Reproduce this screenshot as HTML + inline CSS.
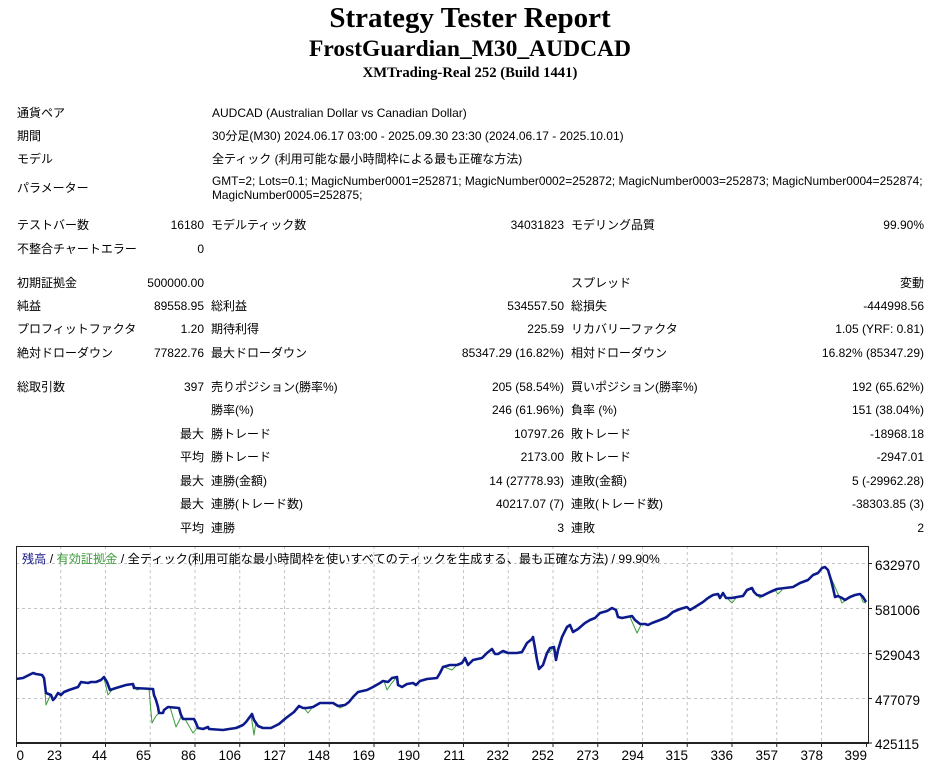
<!DOCTYPE html>
<html><head><meta charset="utf-8">
<style>
html,body{margin:0;padding:0;background:#fff;}
body{width:940px;height:761px;overflow:hidden;position:relative;font-family:"Liberation Sans","Noto Sans CJK JP",sans-serif;font-size:12px;color:#000;}
.h{position:absolute;left:0;width:940px;text-align:center;font-family:"Liberation Serif","Noto Serif CJK SC",serif;font-weight:bold;line-height:1;white-space:nowrap;}
.t{position:absolute;line-height:16px;white-space:nowrap;}
.r{position:absolute;line-height:16px;white-space:nowrap;text-align:right;}
</style></head><body>
<div class="h" style="top:4px;font-size:29px;">Strategy Tester Report</div>
<div class="h" style="top:38px;font-size:23.5px;">FrostGuardian_M30_AUDCAD</div>
<div class="h" style="top:66px;font-size:14.7px;">XMTrading-Real 252 (Build 1441)</div>

<div class="t" style="left:17px;top:105px;">通貨ペア</div>
<div class="t" style="left:212px;top:105px;">AUDCAD (Australian Dollar vs Canadian Dollar)</div>
<div class="t" style="left:17px;top:128px;">期間</div>
<div class="t" style="left:212px;top:128px;">30分足(M30) 2024.06.17 03:00 - 2025.09.30 23:30 (2024.06.17 - 2025.10.01)</div>
<div class="t" style="left:17px;top:151px;">モデル</div>
<div class="t" style="left:212px;top:151px;">全ティック (利用可能な最小時間枠による最も正確な方法)</div>
<div class="t" style="left:17px;top:180px;">パラメーター</div>
<div class="t" style="left:212px;top:174px;line-height:14px;font-size:11.9px;">GMT=2; Lots=0.1; MagicNumber0001=252871; MagicNumber0002=252872; MagicNumber0003=252873; MagicNumber0004=252874;<br>MagicNumber0005=252875;</div>

<div class="t" style="left:17px;top:217px;">テストバー数</div>
<div class="r" style="right:736px;top:217px;">16180</div>
<div class="t" style="left:211px;top:217px;">モデルティック数</div>
<div class="r" style="right:376px;top:217px;">34031823</div>
<div class="t" style="left:571px;top:217px;">モデリング品質</div>
<div class="r" style="right:16px;top:217px;">99.90%</div>

<div class="t" style="left:17px;top:241px;">不整合チャートエラー</div>
<div class="r" style="right:736px;top:241px;">0</div>

<div class="t" style="left:17px;top:275px;">初期証拠金</div>
<div class="r" style="right:736px;top:275px;">500000.00</div>
<div class="t" style="left:571px;top:275px;">スプレッド</div>
<div class="r" style="right:16px;top:275px;">変動</div>

<div class="t" style="left:17px;top:298px;">純益</div>
<div class="r" style="right:736px;top:298px;">89558.95</div>
<div class="t" style="left:211px;top:298px;">総利益</div>
<div class="r" style="right:376px;top:298px;">534557.50</div>
<div class="t" style="left:571px;top:298px;">総損失</div>
<div class="r" style="right:16px;top:298px;">-444998.56</div>

<div class="t" style="left:17px;top:321px;">プロフィットファクタ</div>
<div class="r" style="right:736px;top:321px;">1.20</div>
<div class="t" style="left:211px;top:321px;">期待利得</div>
<div class="r" style="right:376px;top:321px;">225.59</div>
<div class="t" style="left:571px;top:321px;">リカバリーファクタ</div>
<div class="r" style="right:16px;top:321px;">1.05 (YRF: 0.81)</div>

<div class="t" style="left:17px;top:345px;">絶対ドローダウン</div>
<div class="r" style="right:736px;top:345px;">77822.76</div>
<div class="t" style="left:211px;top:345px;">最大ドローダウン</div>
<div class="r" style="right:376px;top:345px;">85347.29 (16.82%)</div>
<div class="t" style="left:571px;top:345px;">相対ドローダウン</div>
<div class="r" style="right:16px;top:345px;">16.82% (85347.29)</div>

<div class="t" style="left:17px;top:379px;">総取引数</div>
<div class="r" style="right:736px;top:379px;">397</div>
<div class="t" style="left:211px;top:379px;">売りポジション(勝率%)</div>
<div class="r" style="right:376px;top:379px;">205 (58.54%)</div>
<div class="t" style="left:571px;top:379px;">買いポジション(勝率%)</div>
<div class="r" style="right:16px;top:379px;">192 (65.62%)</div>

<div class="t" style="left:211px;top:402px;">勝率(%)</div>
<div class="r" style="right:376px;top:402px;">246 (61.96%)</div>
<div class="t" style="left:571px;top:402px;">負率 (%)</div>
<div class="r" style="right:16px;top:402px;">151 (38.04%)</div>

<div class="r" style="right:736px;top:426px;">最大</div>
<div class="t" style="left:211px;top:426px;">勝トレード</div>
<div class="r" style="right:376px;top:426px;">10797.26</div>
<div class="t" style="left:571px;top:426px;">敗トレード</div>
<div class="r" style="right:16px;top:426px;">-18968.18</div>

<div class="r" style="right:736px;top:449px;">平均</div>
<div class="t" style="left:211px;top:449px;">勝トレード</div>
<div class="r" style="right:376px;top:449px;">2173.00</div>
<div class="t" style="left:571px;top:449px;">敗トレード</div>
<div class="r" style="right:16px;top:449px;">-2947.01</div>

<div class="r" style="right:736px;top:473px;">最大</div>
<div class="t" style="left:211px;top:473px;">連勝(金額)</div>
<div class="r" style="right:376px;top:473px;">14 (27778.93)</div>
<div class="t" style="left:571px;top:473px;">連敗(金額)</div>
<div class="r" style="right:16px;top:473px;">5 (-29962.28)</div>

<div class="r" style="right:736px;top:496px;">最大</div>
<div class="t" style="left:211px;top:496px;">連勝(トレード数)</div>
<div class="r" style="right:376px;top:496px;">40217.07 (7)</div>
<div class="t" style="left:571px;top:496px;">連敗(トレード数)</div>
<div class="r" style="right:16px;top:496px;">-38303.85 (3)</div>

<div class="r" style="right:736px;top:520px;">平均</div>
<div class="t" style="left:211px;top:520px;">連勝</div>
<div class="r" style="right:376px;top:520px;">3</div>
<div class="t" style="left:571px;top:520px;">連敗</div>
<div class="r" style="right:16px;top:520px;">2</div>

<svg style="position:absolute;left:0;top:0;" width="940" height="761" viewBox="0 0 940 761">
<g stroke="#c4c4c4" stroke-width="1" stroke-dasharray="3,3" fill="none">
<line x1="16" y1="563.5" x2="868" y2="563.5"/>
<line x1="16" y1="608.5" x2="868" y2="608.5"/>
<line x1="16" y1="653.5" x2="868" y2="653.5"/>
<line x1="16" y1="698.5" x2="868" y2="698.5"/>
<line x1="60.75" y1="546" x2="60.75" y2="743"/>
<line x1="105.5" y1="546" x2="105.5" y2="743"/>
<line x1="150.25" y1="546" x2="150.25" y2="743"/>
<line x1="195" y1="546" x2="195" y2="743"/>
<line x1="239.75" y1="546" x2="239.75" y2="743"/>
<line x1="284.5" y1="546" x2="284.5" y2="743"/>
<line x1="329.25" y1="546" x2="329.25" y2="743"/>
<line x1="374" y1="546" x2="374" y2="743"/>
<line x1="418.75" y1="546" x2="418.75" y2="743"/>
<line x1="463.5" y1="546" x2="463.5" y2="743"/>
<line x1="508.25" y1="546" x2="508.25" y2="743"/>
<line x1="553" y1="546" x2="553" y2="743"/>
<line x1="597.75" y1="546" x2="597.75" y2="743"/>
<line x1="642.5" y1="546" x2="642.5" y2="743"/>
<line x1="687.25" y1="546" x2="687.25" y2="743"/>
<line x1="732" y1="546" x2="732" y2="743"/>
<line x1="776.75" y1="546" x2="776.75" y2="743"/>
<line x1="821.5" y1="546" x2="821.5" y2="743"/>
</g>
<g stroke="#3c9b3c" stroke-width="1" fill="none" stroke-linejoin="round">
<polyline points="44,679 46,705 50,696"/>
<polyline points="104,678 108,695 112,690"/>
<polyline points="134,685 137,690 143,688 150,689"/>
<polyline points="149,689 152,723 156,716 160,712"/>
<polyline points="170,707 176,727 181,717"/>
<polyline points="185,719 193,733 197,728"/>
<polyline points="251,715 254,735 256,722"/>
<polyline points="304,708 308,713 312,708"/>
<polyline points="336,704 340,708 344,706"/>
<polyline points="384,681 387,690 391,684 396,678"/>
<polyline points="444,667 452,670 456,666"/>
<polyline points="546,654 550,652 553,648"/>
<polyline points="630,617 637,633 641,625"/>
<polyline points="727,598 732,603 736,598"/>
<polyline points="757,595 760,598 763,596"/>
<polyline points="775,590 778,594 782,590"/>
<polyline points="828,571 842,603 846,600"/>
<polyline points="860,594 863,602 866,603"/>
</g>
<polyline fill="none" stroke="#0c1a8c" stroke-width="2.6" stroke-linejoin="round" points="16,679 23,678 31,674 33,673 36,674 42,675 44,678 46,693 51,695 53,700 55,698 58,693 61,695 64,692 69,690 78,687 81,682 88,683 91,682 96,682 101,680 104,677 107,682 110,690 113,689 116,688 126,685 133,684 134,688 153,689 154,695 156,700 158,707 159,713 163,713 164,710 168,707 179,708 181,715 183,719 194,719 196,723 198,728 203,729 208,727 209,729 223,730 229,729 236,728 243,725 246,722 249,718 252,714 254,720 258,726 263,728 271,728 279,724 286,718 294,712 299,706 303,708 307,708 313,707 320,703 327,703 333,703 338,706 345,705 349,702 353,697 358,692 367,690 373,687 380,683 383,681 388,682 392,678 397,677 398,685 402,687 407,684 413,683 416,685 420,681 427,679 437,678 440,673 443,667 450,665 457,665 462,663 465,658 468,665 473,660 482,658 487,653 492,649 495,654 498,654 503,651 508,653 517,653 522,652 527,643 532,639 533,637 535,648 537,660 539,669 543,665 547,653 550,648 554,647 556,660 558,650 562,637 567,627 570,625 573,632 578,629 585,623 590,620 595,618 600,613 607,611 612,608 616,610 618,617 622,618 627,617 632,616 635,620 640,624 645,624 648,625 652,623 660,620 667,617 673,612 680,609 687,607 690,610 695,607 703,602 708,598 713,595 718,594 720,598 723,593 726,598 732,598 737,597 743,596 747,590 752,588 754,592 757,595 762,596 770,592 777,589 785,588 793,587 800,583 808,580 813,575 818,573 822,568 825,567 828,570 831,580 833,588 835,597 838,596 842,598 845,600 850,597 855,595 860,594 863,597 866,602"/>
<g stroke="#222" fill="none">
<line x1="16.5" y1="546" x2="16.5" y2="744" stroke-width="1"/>
<line x1="16" y1="546.5" x2="868" y2="546.5" stroke-width="1"/>
<line x1="868.5" y1="546" x2="868.5" y2="744" stroke-width="1"/>
<line x1="16" y1="743" x2="869" y2="743" stroke-width="2"/>
</g>
<g stroke="#222" stroke-width="1">
<line x1="16.5" y1="743" x2="16.5" y2="747"/>
<line x1="60.75" y1="743" x2="60.75" y2="747"/>
<line x1="105.5" y1="743" x2="105.5" y2="747"/>
<line x1="150.25" y1="743" x2="150.25" y2="747"/>
<line x1="195" y1="743" x2="195" y2="747"/>
<line x1="239.75" y1="743" x2="239.75" y2="747"/>
<line x1="284.5" y1="743" x2="284.5" y2="747"/>
<line x1="329.25" y1="743" x2="329.25" y2="747"/>
<line x1="374" y1="743" x2="374" y2="747"/>
<line x1="418.75" y1="743" x2="418.75" y2="747"/>
<line x1="463.5" y1="743" x2="463.5" y2="747"/>
<line x1="508.25" y1="743" x2="508.25" y2="747"/>
<line x1="553" y1="743" x2="553" y2="747"/>
<line x1="597.75" y1="743" x2="597.75" y2="747"/>
<line x1="642.5" y1="743" x2="642.5" y2="747"/>
<line x1="687.25" y1="743" x2="687.25" y2="747"/>
<line x1="732" y1="743" x2="732" y2="747"/>
<line x1="776.75" y1="743" x2="776.75" y2="747"/>
<line x1="821.5" y1="743" x2="821.5" y2="747"/>
<line x1="866.5" y1="743" x2="866.5" y2="747"/>
<line x1="868" y1="563.5" x2="872" y2="563.5"/>
<line x1="868" y1="608.5" x2="872" y2="608.5"/>
<line x1="868" y1="653.5" x2="872" y2="653.5"/>
<line x1="868" y1="698.5" x2="872" y2="698.5"/>
<line x1="868" y1="743" x2="872" y2="743"/>
</g>
<g font-family="Liberation Sans, sans-serif" font-size="13.5" fill="#000">
<text x="875" y="570">632970</text>
<text x="875" y="615">581006</text>
<text x="875" y="660">529043</text>
<text x="875" y="705">477079</text>
<text x="875" y="749">425115</text>
</g>
<g font-family="Liberation Sans, sans-serif" font-size="13.5" fill="#000" text-anchor="end">
<text x="24" y="760">0</text>
<text x="62" y="760">23</text>
<text x="107" y="760">44</text>
<text x="151" y="760">65</text>
<text x="196" y="760">86</text>
<text x="241" y="760">106</text>
<text x="286" y="760">127</text>
<text x="330" y="760">148</text>
<text x="375" y="760">169</text>
<text x="420" y="760">190</text>
<text x="465" y="760">211</text>
<text x="509" y="760">232</text>
<text x="554" y="760">252</text>
<text x="599" y="760">273</text>
<text x="644" y="760">294</text>
<text x="688" y="760">315</text>
<text x="733" y="760">336</text>
<text x="778" y="760">357</text>
<text x="823" y="760">378</text>
<text x="867" y="760">399</text>
</g>
<text x="22" y="563" font-family="Liberation Sans, Noto Sans CJK JP, sans-serif" font-size="12.2" fill="#000"><tspan fill="#1a1a8c">残高</tspan> / <tspan fill="#3c9b3c">有効証拠金</tspan> / 全ティック(利用可能な最小時間枠を使いすべてのティックを生成する、最も正確な方法) / 99.90%</text>
</svg>
</body></html>
